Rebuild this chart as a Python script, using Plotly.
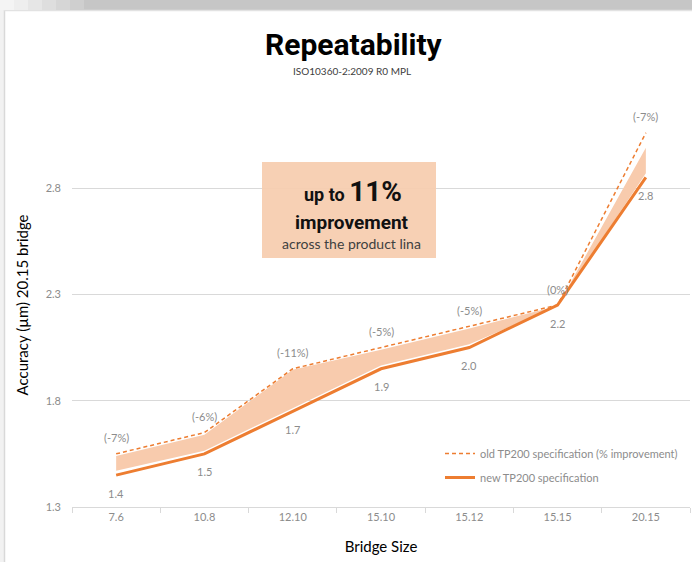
import plotly.graph_objects as go

# ---- data ----
categories = ["7.6", "10.8", "12.10", "15.10", "15.12", "15.15", "20.15"]
old_spec = [1.55, 1.65, 1.95, 2.05, 2.15, 2.25, 3.06]
new_spec = [1.45, 1.55, 1.75, 1.95, 2.05, 2.25, 2.85]
area_top = [1.54, 1.64, 1.945, 2.04, 2.14, 2.245, 2.99]
area_bottom = [1.47, 1.565, 1.765, 1.965, 2.065, 2.245, 2.87]
old_labels = ["(-7%)", "(-6%)", "(-11%)", "(-5%)", "(-5%)", "(0%)", "(-7%)"]
new_labels = ["1.4", "1.5", "1.7", "1.9", "2.0", "2.2", "2.8"]
y_ticks = [1.3, 1.8, 2.3, 2.8]

W, H = 692, 562
ML, MR, MT, MB = 72, 2, 103, 55
PW, PH = W - ML - MR, H - MT - MB

def px_x(px):
    return (px - ML) / PW

def px_y(py):
    return (H - MB - py) / PH

ORANGE = "#ED7D31"
FILL = "#F8CBAD"
GRAY = "#8C8C8C"
GRID = "#D9D9D9"
FONT = "Lato, Open Sans, sans-serif"
BOLD = "Roboto, Lato, sans-serif"

fig = go.Figure()

# shaded improvement band
fig.add_trace(go.Scatter(x=categories, y=area_bottom, mode="lines",
                         line=dict(width=0, color=FILL), showlegend=False,
                         hoverinfo="skip"))
fig.add_trace(go.Scatter(x=categories, y=area_top, mode="lines",
                         line=dict(width=0, color=FILL), fill="tonexty",
                         fillcolor=FILL, showlegend=False, hoverinfo="skip"))

fig.add_trace(go.Scatter(x=categories, y=old_spec, mode="lines",
                         name="old TP200 specification (% improvement)",
                         legendgroup="old",
                         line=dict(color=ORANGE, width=1.5, dash="4px,3px")))
fig.add_trace(go.Scatter(x=categories, y=new_spec, mode="lines",
                         name="new TP200 specification",
                         legendgroup="new",
                         line=dict(color=ORANGE, width=3)))

annotations = []
for i, (v, t) in enumerate(zip(old_spec, old_labels)):
    annotations.append(dict(x=i, y=v, xref="x", yref="y", text=t,
                            showarrow=False, yshift=16,
                            xanchor="center", yanchor="middle",
                            font=dict(family=FONT, size=11, color=GRAY)))
for i, (v, t) in enumerate(zip(new_spec, new_labels)):
    annotations.append(dict(x=i, y=v, xref="x", yref="y", text=t,
                            showarrow=False, yshift=-18,
                            xanchor="center", yanchor="middle",
                            font=dict(family=FONT, size=11, color=GRAY)))

def paper_text(px, py, text, family, size, color):
    return dict(xref="paper", yref="paper", x=px_x(px), y=px_y(py),
                xanchor="center", yanchor="middle", text=text,
                showarrow=False, font=dict(family=family, size=size, color=color))

# titles
annotations.append(paper_text(354, 44, "<b>Repeatability</b>", BOLD, 30, "#000000"))
annotations.append(paper_text(352, 71, "ISO10360-2:2009 R0 MPL", FONT, 10, "#404040"))
# callout box text
annotations.append(paper_text(353, 191,
                              "<b>up to <span style='font-size:28px'>11%</span></b>",
                              BOLD, 18, "#111111"))
annotations.append(paper_text(352, 222, "<b>improvement</b>", BOLD, 19, "#111111"))
annotations.append(paper_text(351, 243, "across the product lina", FONT, 14, "#404040"))

shapes = [
    # callout box
    dict(type="rect", xref="paper", yref="paper", x0=px_x(262), x1=px_x(436),
         y0=px_y(258), y1=px_y(162), fillcolor="#F7CDB0", line=dict(width=0),
         layer="above", opacity=0.95),
    # top grey band
    dict(type="rect", xref="paper", yref="paper", x0=px_x(0), x1=px_x(W),
         y0=px_y(10), y1=px_y(0), fillcolor="#C6C6C6", line=dict(width=0)),
    # left border strip
    dict(type="rect", xref="paper", yref="paper", x0=px_x(0), x1=px_x(4),
         y0=px_y(H), y1=px_y(10), fillcolor="#F2F2F2", line=dict(width=0)),
    dict(type="line", xref="paper", yref="paper", x0=px_x(4.5), x1=px_x(4.5),
         y0=px_y(H), y1=px_y(10), line=dict(color="#D9D9D9", width=1.5)),
    dict(type="line", xref="paper", yref="paper", x0=px_x(4), x1=px_x(W),
         y0=px_y(10.5), y1=px_y(10.5), line=dict(color="#E2E2E2", width=1.5)),
]
# lighter gradient on left part of top band
grad = ["#F4F4F4", "#EEEEEE", "#E6E6E6", "#DEDEDE", "#D6D6D6", "#CFCFCF"]
for i, col in enumerate(grad):
    shapes.append(dict(type="rect", xref="paper", yref="paper",
                       x0=px_x(i * 14), x1=px_x(i * 14 + 14),
                       y0=px_y(10), y1=px_y(0), fillcolor=col,
                       line=dict(width=0)))

fig.update_layout(
    width=W, height=H,
    margin=dict(l=ML, r=MR, t=MT, b=MB),
    paper_bgcolor="white", plot_bgcolor="white",
    font=dict(family=FONT, color=GRAY),
    showlegend=True,
    legend=dict(x=px_x(440), y=px_y(439), xanchor="left", yanchor="top",
                traceorder="grouped", bgcolor="rgba(0,0,0,0)",
                font=dict(family=FONT, size=11, color=GRAY),
                tracegroupgap=5, itemwidth=30),
    annotations=annotations,
    shapes=shapes,
    xaxis=dict(type="category", range=[-0.5, 6.5], showgrid=False,
               showline=True, linecolor=GRID, linewidth=1,
               ticks="outside", tickson="boundaries", ticklen=5, tickcolor=GRID,
               tickfont=dict(family=FONT, size=11, color=GRAY),
               title=dict(text="Bridge Size", standoff=19,
                          font=dict(family=FONT, size=15, color="#000000"))),
    yaxis=dict(range=[1.3, 3.2], tickvals=y_ticks,
               ticktext=[f"{v:.1f}" for v in y_ticks],
               showgrid=True, gridcolor=GRID, gridwidth=1, zeroline=False,
               showline=False, ticks="", ticklabelstandoff=10,
               tickfont=dict(family=FONT, size=11, color=GRAY),
               title=dict(text="Accuracy (µm) 20.15 bridge", standoff=13,
                          font=dict(family=FONT, size=15, color="#000000"))),
)

fig.write_html("out.html")
